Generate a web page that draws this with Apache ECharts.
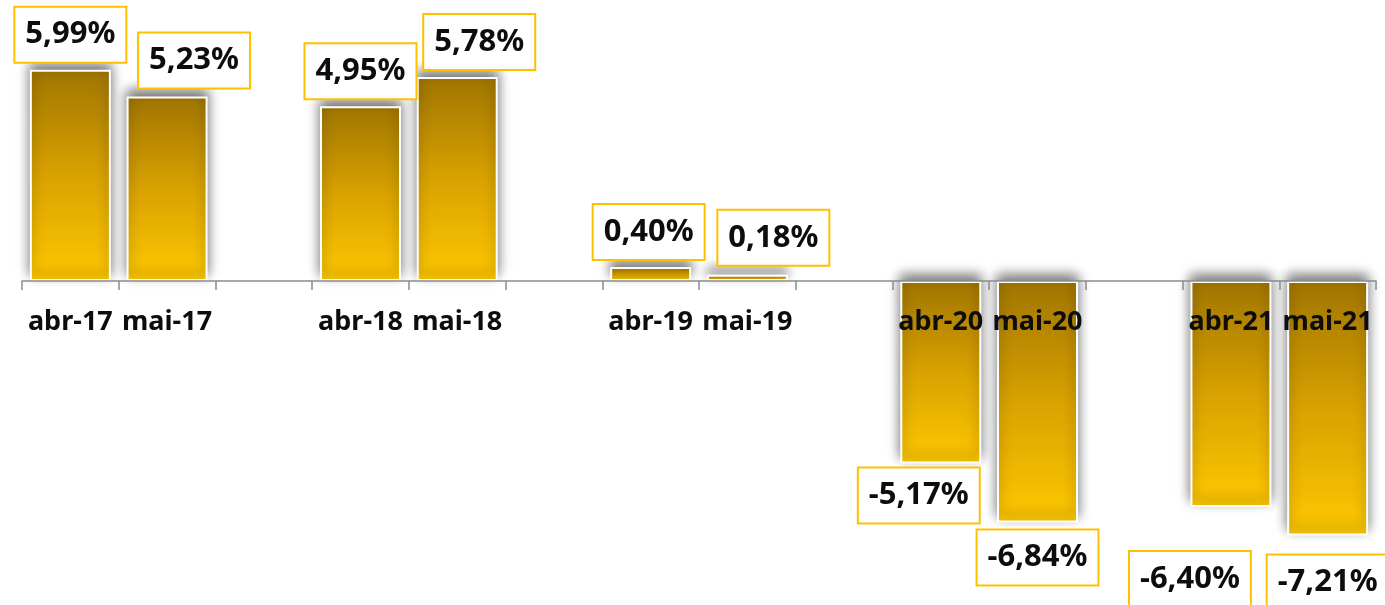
<!DOCTYPE html>
<html>
<head>
<meta charset="utf-8">
<script src="https://cdn.jsdelivr.net/npm/echarts@6/dist/echarts.min.js"></script>
<style>
  html, body { margin: 0; padding: 0; background: #fff; }
  #chart { width: 1385px; height: 605px; }
</style>
</head>
<body>
<div id="chart"></div>
<script>
// categories (blank ones are the gaps between year pairs)
var categories = ['abr-17', 'mai-17', '', 'abr-18', 'mai-18', '', 'abr-19', 'mai-19', '', 'abr-20', 'mai-20', '', 'abr-21', 'mai-21']
// variation in %
var values = [5.99, 5.23, null, 4.95, 5.78, null, 0.40, 0.18, null, -5.17, -6.84, null, -6.40, -7.21]

// hand placed data labels, like in the original sheet
var labelOffsets = [[0, 0], [27, -1], null, [0, 0], [22, 0], null, [-2, 0], [26, -2], null, [-22, -3], [0, 0], null, [-41, 37], [0, 12]]

var myChart = echarts.init(document.getElementById('chart'))

var barData = values.map(function (v, i) {
  if (v === null) return null
  return {
    value: v,
    label: {
      position: v >= 0 ? 'top' : 'bottom',
      offset: labelOffsets[i]
    }
  }
})

// grid: 35.3px per 1%, zero line at y=281
var gridTop = 34
var gridHeight = 529.5

myChart.setOption({
  animation: false,
  grid: {
    left: 22,
    right: 9,
    top: gridTop,
    height: gridHeight,
    outerBoundsMode: 'none'
  },
  xAxis: {
    type: 'category',
    data: categories,
    z: 5,
    position: 'bottom',
    offset: 281 - (gridTop + gridHeight),
    axisLine: {
      onZero: false,
      lineStyle: { color: '#8c8c8c', width: 1.5 }
    },
    axisTick: {
      show: true,
      length: 9,
      lineStyle: { color: '#8c8c8c', width: 1.5 }
    },
    axisLabel: {
      interval: 0,
      margin: 28,
      color: '#0d0d0d',
      fontFamily: 'Noto Sans',
      fontWeight: 'bold',
      fontSize: 27
    }
  },
  yAxis: {
    type: 'value',
    min: -8,
    max: 7,
    show: false,
    splitLine: { show: false }
  },
  series: [
    {
      type: 'bar',
      data: barData,
      barWidth: 81,
      itemStyle: {
        color: new echarts.graphic.LinearGradient(0, 0, 0, 1, [
          { offset: 0, color: '#9f7500' },
          { offset: 0.5, color: '#d9a200' },
          { offset: 1, color: '#ffc800' }
        ]),
        borderColor: '#ffffff',
        borderWidth: 2,
        shadowBlur: 12,
        shadowOffsetY: -6,
        shadowColor: 'rgba(0,0,0,0.55)'
      },
      label: {
        show: true,
        distance: 8,
        formatter: function (p) {
          return p.value.toFixed(2).replace('.', ',') + '%'
        },
        color: '#0d0d0d',
        fontFamily: 'Noto Sans',
        fontWeight: 'bold',
        fontSize: 31,
        lineHeight: 36,
        backgroundColor: '#ffffff',
        borderColor: '#ffc000',
        borderWidth: 2,
        padding: [9, 10]
      }
    }
  ]
})
</script>
</body>
</html>
